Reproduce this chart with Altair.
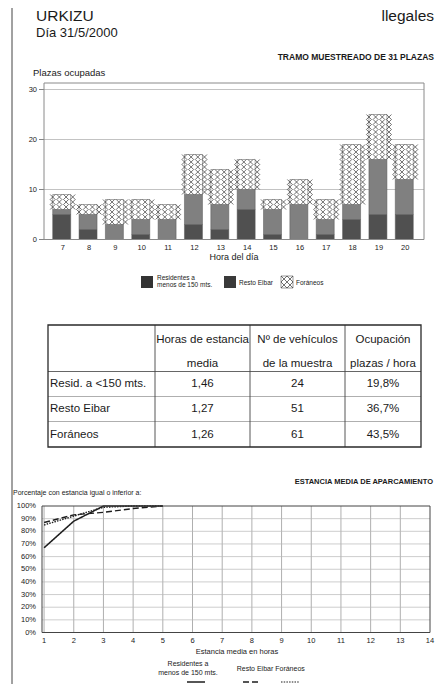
import altair as alt
import pandas as pd

# ---------------- data ----------------
hours = list(range(7, 21))
residentes = [5, 2, 0, 1, 0, 3, 2, 6, 1, 0, 1, 4, 5, 5]
resto_eibar = [1, 3, 3, 3, 4, 6, 5, 4, 5, 7, 3, 3, 11, 7]
foraneos = [3, 2, 5, 4, 3, 8, 7, 6, 2, 5, 4, 12, 9, 7]
bar_categories = ["Residentes a menos de 150 mts.", "Resto Eibar", "Foráneos"]
bar_yticks = [0, 10, 20, 30]

table_header_1 = ["Horas de estancia", "Nº de vehículos", "Ocupación"]
table_header_2 = ["media", "de la muestra", "plazas / hora"]
table_rows = ["Resid. a <150 mts.", "Resto Eibar", "Foráneos"]
table_horas = ["1,46", "1,27", "1,26"]
table_vehiculos = ["24", "51", "61"]
table_ocupacion = ["19,8%", "36,7%", "43,5%"]

stay_hours = [1, 2, 3, 4, 5]
pct_residentes = [67, 88, 100, 100, 100]
pct_resto = [87, 93, 95, 98, 100]
pct_foraneos = [85, 92, 99, 100, 100]
line_series = ["Residentes a menos de 150 mts.", "Resto Eibar", "Foráneos"]
line_xticks = list(range(1, 15))
line_yticks = list(range(0, 101, 10))

# ---------------- helpers ----------------
FONT = "Liberation Sans"
INK = "#1a1a1a"
M = 8
W, H = 427, 676


def px(v):
    return v - M


ONE = pd.DataFrame({"s": [""]})


def label(text, x, y, size, align="left", weight="normal", baseline="alphabetic", color=INK):
    return alt.Chart(pd.DataFrame({"s": [text]})).mark_text(
        align=align, baseline=baseline, font=FONT, fontSize=size,
        fontWeight=weight, color=color
    ).encode(x=alt.value(px(x)), y=alt.value(px(y)), text="s:N")


def box(x1, y1, x2, y2, fill=None, stroke=None, sw=1.0):
    kw = {"strokeWidth": sw}
    kw["fill"] = fill if fill else "transparent"
    if stroke:
        kw["stroke"] = stroke
    return alt.Chart(ONE).mark_rect(**kw).encode(
        x=alt.value(px(x1)), x2=alt.value(px(x2)),
        y=alt.value(px(y1)), y2=alt.value(px(y2)))


def hline(x1, x2, y, color, sw=1.0, dash=None):
    kw = {"color": color, "strokeWidth": sw}
    if dash:
        kw["strokeDash"] = dash
    return alt.Chart(ONE).mark_rule(**kw).encode(
        x=alt.value(px(x1)), x2=alt.value(px(x2)), y=alt.value(px(y)))


def vline(x, y1, y2, color, sw=1.0):
    return alt.Chart(ONE).mark_rule(color=color, strokeWidth=sw).encode(
        x=alt.value(px(x)), y=alt.value(px(y1)), y2=alt.value(px(y2)))


XSHAPE = "M-1,-1L1,1M-1,1L1,-1"

# ---------------- header ----------------
header = [
    label("URKIZU", 36, 21, 15.5),
    label("Día 31/5/2000", 36, 37, 13),
    label("llegales", 434, 21, 15.5, align="right"),
    label("TRAMO MUESTREADO DE 31 PLAZAS", 434, 60, 8.5, align="right", weight="bold"),
    label("Plazas ocupadas", 33, 76, 9.5),
    vline(12, 8, 8 + H, "#444", 1),
]

# ---------------- bar chart ----------------
xs_bar = alt.Scale(domain=hours, range=[px(44), px(424)], paddingInner=0.24, paddingOuter=0.33)
ys_bar = alt.Scale(domain=[0, 31.3], range=[px(239.5), px(83)], nice=False, zero=False)

bar_rows = []
for i, h in enumerate(hours):
    for k, vals in enumerate([residentes, resto_eibar, foraneos]):
        bar_rows.append({"h": h, "cat": bar_categories[k], "v": vals[i], "ord": k})
bars_df = pd.DataFrame(bar_rows)

hatch_rows = []
for i, h in enumerate(hours):
    base = residentes[i] + resto_eibar[i]
    for k in range(foraneos[i]):
        for c in range(4):
            hatch_rows.append({"h": h, "hy": base + k + 0.5, "col": c})
hatch_df = pd.DataFrame(hatch_rows)

grid_bar = alt.Chart(pd.DataFrame({"t": bar_yticks[1:]})).mark_rule(
    color="#b4b4b4", strokeWidth=0.8
).encode(y=alt.Y("t:Q", scale=ys_bar, axis=None), x=alt.value(px(44)), x2=alt.value(px(424)))

bars = alt.Chart(bars_df).mark_bar(stroke="#555555", strokeWidth=0.5).encode(
    x=alt.X("h:O", scale=xs_bar, axis=None),
    y=alt.Y("v:Q", scale=ys_bar, axis=None, stack="zero"),
    fill=alt.Fill("cat:N", scale=alt.Scale(domain=bar_categories,
                                           range=["#505050", "#808080", "#ffffff"]), legend=None),
    order=alt.Order("ord:Q"),
)

hatch = alt.Chart(hatch_df).mark_point(
    shape=XSHAPE, size=25, filled=False, stroke="#333333", strokeWidth=0.7, opacity=1
).encode(
    x=alt.X("h:O", scale=xs_bar, axis=None),
    xOffset=alt.XOffset("col:O", scale=alt.Scale(paddingInner=0, paddingOuter=0)),
    y=alt.Y("hy:Q", scale=ys_bar, axis=None),
)

ylab_bar = alt.Chart(pd.DataFrame({"t": bar_yticks})).mark_text(
    align="right", baseline="middle", font=FONT, fontSize=7.5, color=INK
).encode(y=alt.Y("t:Q", scale=ys_bar, axis=None), x=alt.value(px(37)), text="t:Q")

ytick_bar = alt.Chart(pd.DataFrame({"t": bar_yticks})).mark_rule(color="#666", strokeWidth=0.8).encode(
    y=alt.Y("t:Q", scale=ys_bar, axis=None), x=alt.value(px(39)), x2=alt.value(px(44)))

xlab_bar = alt.Chart(pd.DataFrame({"h": hours})).mark_text(
    baseline="middle", font=FONT, fontSize=7.5, color=INK
).encode(x=alt.X("h:O", scale=xs_bar, axis=None), y=alt.value(px(247.5)), text="h:O")

bar_section = alt.layer(
    grid_bar, bars, hatch, ylab_bar, ytick_bar, xlab_bar,
)

bar_extra = [
    box(44, 83, 424, 239.5, stroke="#8a8a8a", sw=1),
    label("Hora del día", 234, 260, 9, align="center"),
]

# bar legend
bar_legend = [
    box(141, 276, 153, 288, fill="#333333"),
    label("Residentes a", 157, 280, 6.5),
    label("menos de 150 mts.", 157, 286.5, 6.5),
    box(224, 276, 236, 288, fill="#3a3a3a"),
    label("Resto Eibar", 239, 284.5, 6.5),
    box(281, 276, 293, 288, fill="#ffffff", stroke="#555", sw=0.6),
    label("Foráneos", 296, 284.5, 6.5),
]
for cx in (284, 290):
    for cy in (279, 285):
        bar_legend.append(
            alt.Chart(ONE).mark_point(shape=XSHAPE, size=36, filled=False, stroke="#333",
                                      strokeWidth=0.7, opacity=1).encode(
                x=alt.value(px(cx)), y=alt.value(px(cy))))

# ---------------- table ----------------
T_L, T_R, T_T, T_B = 48, 421, 325, 447
COLS = [155, 250, 345]
ROW_LINES = [371.5, 396.5, 421.5]

table_parts = [
    hline(T_L, T_R, ROW_LINES[1], "#9a9a9a", 0.8),
    hline(T_L, T_R, ROW_LINES[2], "#9a9a9a", 0.8),
    hline(T_L, T_R, ROW_LINES[0], "#555555", 0.9),
]
for cx in COLS:
    table_parts.append(vline(cx, T_T, T_B, "#444444", 0.9))
table_parts.append(box(T_L, T_T, T_R, T_B, stroke="#2a2a2a", sw=1.3))

col_centers = [202.5, 297.5, 383]
for j in range(3):
    table_parts.append(label(table_header_1[j], col_centers[j], 340, 11.5, align="center", baseline="middle"))
    table_parts.append(label(table_header_2[j], col_centers[j], 364, 11.5, align="center", baseline="middle"))

ys_rows = alt.Scale(domain=[0, 1, 2], range=[px(384), px(434.5)], padding=0)
for j, (vals, xpos, al) in enumerate([
    (table_rows, 50, "left"),
    (table_horas, col_centers[0], "center"),
    (table_vehiculos, col_centers[1], "center"),
    (table_ocupacion, col_centers[2], "center"),
]):
    df = pd.DataFrame({"r": [0, 1, 2], "s": vals})
    table_parts.append(
        alt.Chart(df).mark_text(align=al, baseline="middle", font=FONT, fontSize=11.5, color=INK).encode(
            y=alt.Y("r:O", scale=ys_rows, axis=None), x=alt.value(px(xpos)), text="s:N"))

# ---------------- line chart ----------------
XR = 430
xs_line = alt.Scale(domain=[0.93, 14], range=[px(42), px(XR)], nice=False, zero=False)
ys_line = alt.Scale(domain=[0, 100], range=[px(632.5), px(506)], nice=False, zero=False)

line_rows = []
for name, vals in zip(line_series, [pct_residentes, pct_resto, pct_foraneos]):
    for x, v in zip(stay_hours, vals):
        line_rows.append({"serie": name, "x": x, "p": v})
line_df = pd.DataFrame(line_rows)

vgrid = alt.Chart(pd.DataFrame({"t": line_xticks[:-1]})).mark_rule(color="#8c8c8c", strokeWidth=0.7).encode(
    x=alt.X("t:Q", scale=xs_line, axis=None), y=alt.value(px(506)), y2=alt.value(px(632.5)))
hgrid = alt.Chart(pd.DataFrame({"t": line_yticks[1:-1]})).mark_rule(color="#b8b8b8", strokeWidth=0.7).encode(
    y=alt.Y("t:Q", scale=ys_line, axis=None), x=alt.value(px(42)), x2=alt.value(px(XR)))

lines = alt.Chart(line_df).mark_line(color="#1e1e1e").encode(
    x=alt.X("x:Q", scale=xs_line, axis=None),
    y=alt.Y("p:Q", scale=ys_line, axis=None),
    detail="serie:N",
    strokeDash=alt.StrokeDash("serie:N", scale=alt.Scale(domain=line_series,
                                                         range=[[1, 0], [6, 3], [1.5, 1.2]]), legend=None),
    strokeWidth=alt.StrokeWidth("serie:N", scale=alt.Scale(domain=line_series, range=[1.5, 1.4, 1.1]),
                                legend=None),
)

ylab_line = alt.Chart(pd.DataFrame({"t": line_yticks})).mark_text(
    align="right", baseline="middle", font=FONT, fontSize=7.5, color=INK
).encode(y=alt.Y("t:Q", scale=ys_line, axis=None), x=alt.value(px(36)),
         text=alt.Text("lab:N")).transform_calculate(lab="datum.t + '%'")

xlab_line = alt.Chart(pd.DataFrame({"t": line_xticks})).mark_text(
    baseline="middle", font=FONT, fontSize=7.5, color=INK
).encode(x=alt.X("t:Q", scale=xs_line, axis=None), y=alt.value(px(641)), text="t:Q")

line_section = alt.layer(vgrid, hgrid, lines, ylab_line, xlab_line)

line_extra = [
    box(42, 506, XR, 632.5, stroke="#444444", sw=1),
    label("ESTANCIA MEDIA DE APARCAMIENTO", 433, 484, 7.5, align="right", weight="bold"),
    label("Porcentaje con estancia igual o inferior a:", 13, 495, 7),
    label("Estancia media en horas", 237, 654, 7.5, align="center"),
    label("Residentes a", 188, 666, 7, align="center"),
    label("menos de 150 mts.", 188, 675, 7, align="center"),
    label("Resto Eibar", 255, 671, 7, align="center"),
    label("Foráneos", 290, 671, 7, align="center"),
    hline(187, 205, 682, "#1e1e1e", 1.5),
    hline(243, 258, 682, "#1e1e1e", 1.4, dash=[6, 3]),
    hline(281, 299, 682, "#1e1e1e", 1.1, dash=[1.5, 1.2]),
]

chart = alt.layer(
    *header, bar_section, *bar_extra, *bar_legend, *table_parts, line_section, *line_extra
).resolve_scale(
    x="independent", y="independent"
).properties(
    width=W, height=H, padding=0, autosize=alt.AutoSizeParams(type="none")
).configure_view(stroke=None)

chart.save("out.html", embed_options={"renderer": "svg", "actions": False})
